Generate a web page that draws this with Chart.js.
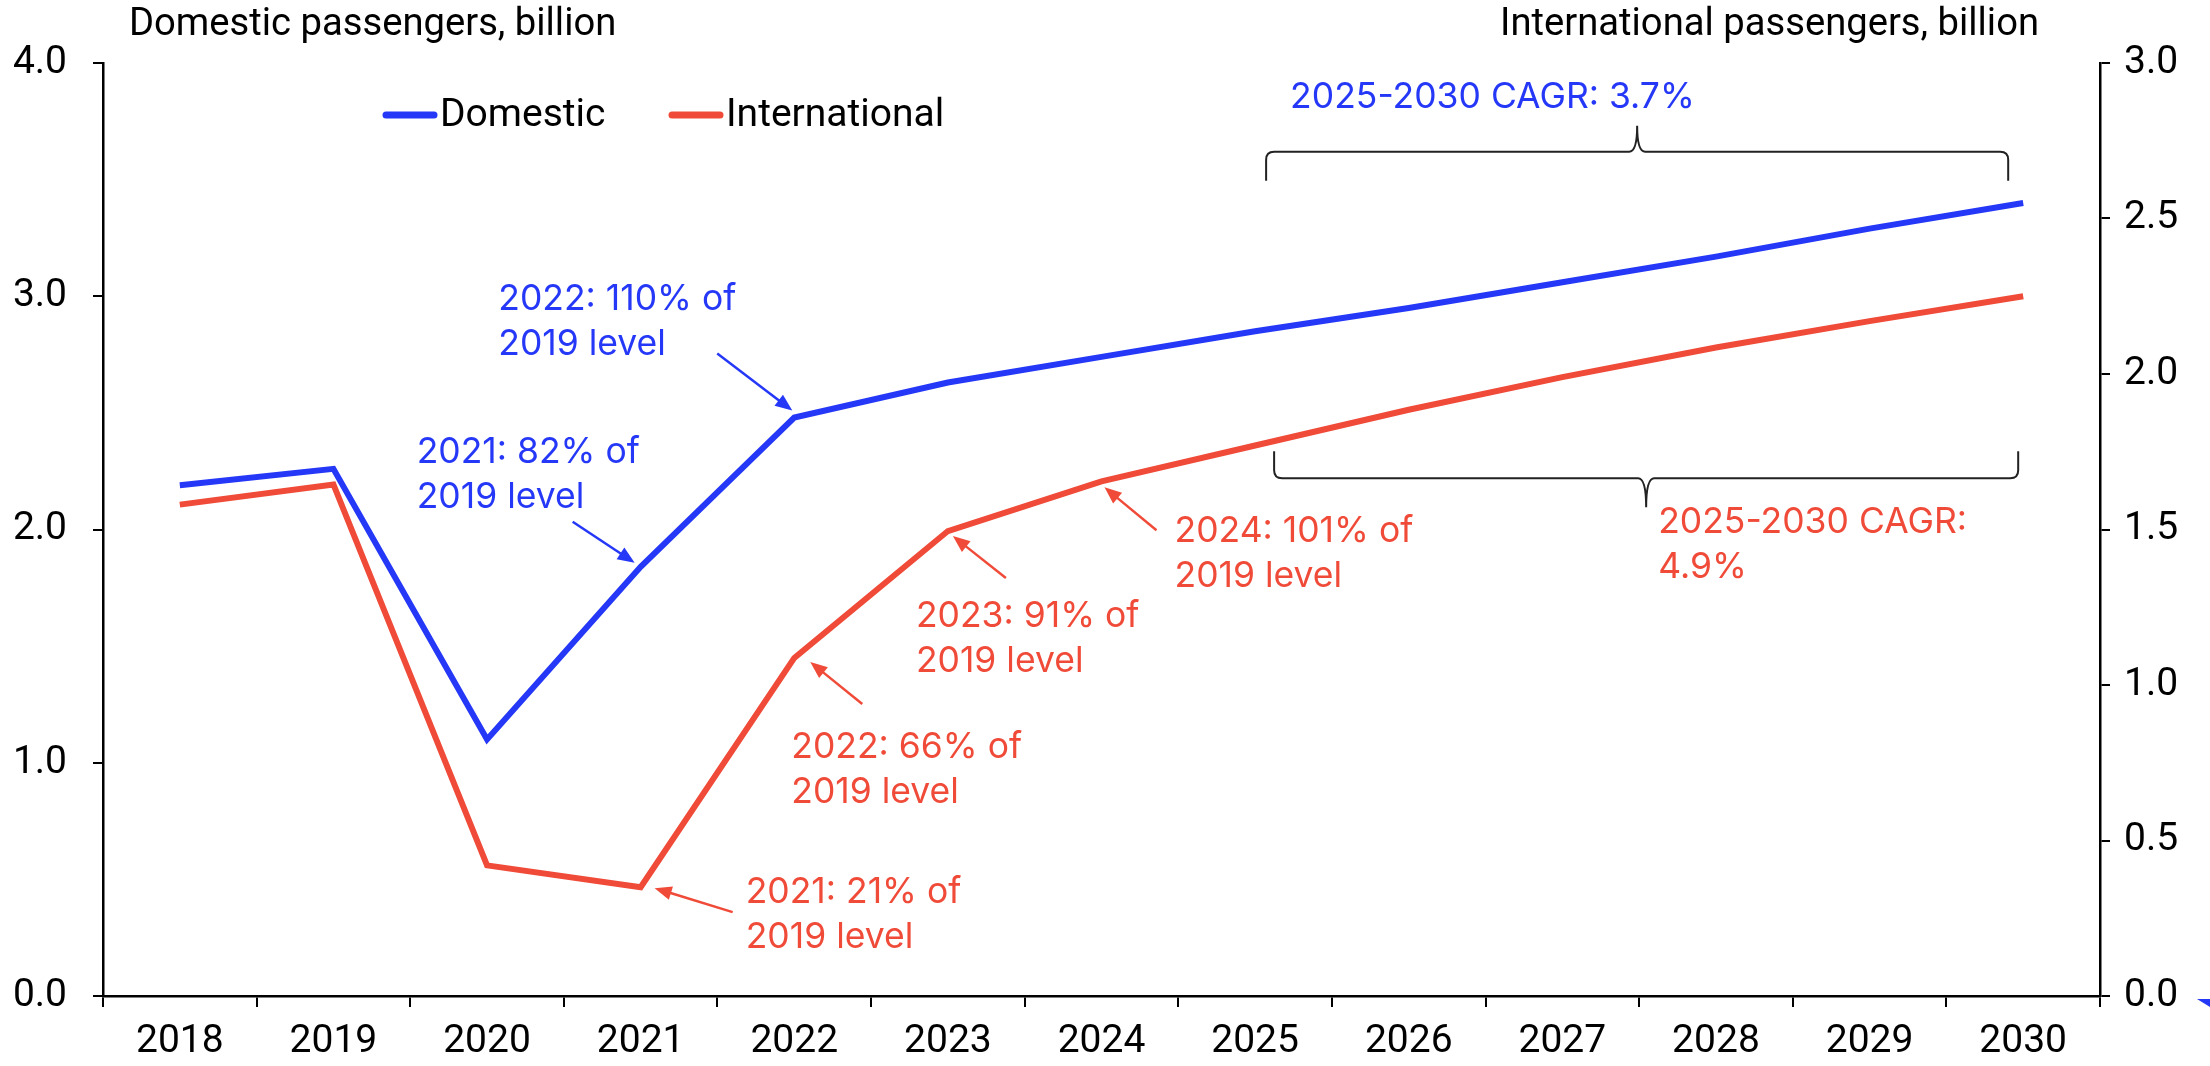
<!DOCTYPE html>
<html><head><meta charset="utf-8">
<script src="https://cdn.jsdelivr.net/npm/chart.js@4.4.1/dist/chart.umd.min.js"></script>
<style>html,body{margin:0;padding:0;background:#fff;}canvas{display:block;}</style>
</head><body>
<canvas id="c" width="2210" height="1066"></canvas>
<script>
// ---- data ----
const years = ['2018','2019','2020','2021','2022','2023','2024','2025','2026','2027','2028','2029','2030'];
const domestic = [2.19, 2.26, 1.10, 1.84, 2.48, 2.63, 2.74, 2.85, 2.95, 3.06, 3.17, 3.29, 3.40];
const international = [1.58, 1.645, 0.42, 0.35, 1.087, 1.495, 1.655, 1.77, 1.885, 1.99, 2.085, 2.17, 2.25];
const leftTicks = [0, 1, 2, 3, 4];
const rightTicks = [0, 0.5, 1, 1.5, 2, 2.5, 3];
const seriesNames = ['Domestic', 'International'];
const leftTitle = 'Domestic passengers, billion';
const rightTitle = 'International passengers, billion';
const domNoteIdx = [4, 3];
const domNoteText = [['2022: 110% of', '2019 level'], ['2021: 82% of', '2019 level']];
const intlNoteIdx = [3, 4, 5, 6];
const intlNoteText = [['2021: 21% of', '2019 level'], ['2022: 66% of', '2019 level'], ['2023: 91% of', '2019 level'], ['2024: 101% of', '2019 level']];
const cagrRange = [7, 12];
const domCagrText = ['2025-2030 CAGR: 3.7%'];
const intlCagrText = ['2025-2030 CAGR:', '4.9%'];

// ---- styles ----
const BLUE = '#2538f7';
const RED = '#f04a38';
const AX_FONT = 'Roboto, "Liberation Sans", sans-serif';
const AX_SIZE = 39;
const TITLE_SIZE = 38.2;
const NOTE_FONT = 'Inter, "Open Sans", sans-serif';
const NOTE_SIZE = 35.5;
const LINE_H = 45;

// annotation layout (pixel offsets from the data point)
const domNoteLayout = [
  {text:[-296,-108], tail:[-77,-64], tip:[-2,-7]},
  {text:[-224,-104], tail:[-68,-45], tip:[-6,-4]}
];
const intlNoteLayout = [
  {text:[105,16], tail:[92,25], tip:[14,1]},
  {text:[-3,100], tail:[68,46], tip:[16,4]},
  {text:[-32,96], tail:[58,47], tip:[5,5]},
  {text:[73,61], tail:[55,49], tip:[3,6]}
];

function drawArrow(ctx, x1, y1, x2, y2, color) {
  const ang = Math.atan2(y2 - y1, x2 - x1);
  const L = 17, W = 7;
  ctx.save();
  ctx.strokeStyle = color; ctx.fillStyle = color; ctx.lineWidth = 2.5;
  ctx.beginPath();
  ctx.moveTo(x1, y1);
  ctx.lineTo(x2 - Math.cos(ang) * (L - 2), y2 - Math.sin(ang) * (L - 2));
  ctx.stroke();
  ctx.beginPath();
  ctx.moveTo(x2, y2);
  ctx.lineTo(x2 - Math.cos(ang) * L - Math.sin(ang) * W, y2 - Math.sin(ang) * L + Math.cos(ang) * W);
  ctx.lineTo(x2 - Math.cos(ang) * L + Math.sin(ang) * W, y2 - Math.sin(ang) * L - Math.cos(ang) * W);
  ctx.closePath();
  ctx.fill();
  ctx.restore();
}

function drawBrace(ctx, x1, x2, yH, yEnd, yTip) {
  const r = 8;
  const s = Math.sign(yEnd - yH);
  const xm = (x1 + x2) / 2;
  ctx.save();
  ctx.strokeStyle = '#222'; ctx.lineWidth = 2;
  ctx.beginPath();
  ctx.moveTo(x1, yEnd);
  ctx.lineTo(x1, yH + s * r);
  ctx.quadraticCurveTo(x1, yH, x1 + r, yH);
  ctx.lineTo(xm - r, yH);
  ctx.quadraticCurveTo(xm, yH, xm, yTip);
  ctx.quadraticCurveTo(xm, yH, xm + r, yH);
  ctx.lineTo(x2 - r, yH);
  ctx.quadraticCurveTo(x2, yH, x2, yH + s * r);
  ctx.lineTo(x2, yEnd);
  ctx.stroke();
  ctx.restore();
}

function drawLines(ctx, lines, x, y, color) {
  ctx.save();
  ctx.fillStyle = color;
  ctx.font = NOTE_SIZE + 'px ' + NOTE_FONT;
  ctx.textAlign = 'left'; ctx.textBaseline = 'alphabetic';
  lines.forEach((t, i) => ctx.fillText(t, x, y + i * LINE_H));
  ctx.restore();
}

const overlay = {
  id: 'overlay',
  afterDraw(chart) {
    const ctx = chart.ctx;
    const xs = chart.scales.x, yl = chart.scales.y, yr = chart.scales.y1;
    // axis titles
    ctx.save();
    ctx.font = TITLE_SIZE + 'px ' + AX_FONT;
    ctx.fillStyle = '#000';
    ctx.textBaseline = 'alphabetic';
    ctx.textAlign = 'left';
    ctx.fillText(leftTitle, 129, 35);
    ctx.textAlign = 'right';
    ctx.fillText(rightTitle, 2039, 35);
    // legend
    ctx.font = AX_SIZE + 'px ' + AX_FONT;
    const legend = [{x: 383, c: BLUE, t: seriesNames[0]}, {x: 669, c: RED, t: seriesNames[1]}];
    legend.forEach(l => {
      ctx.strokeStyle = l.c; ctx.lineWidth = 7; ctx.lineCap = 'round';
      ctx.beginPath(); ctx.moveTo(l.x + 3, 115); ctx.lineTo(l.x + 51, 115); ctx.stroke();
      ctx.textAlign = 'left'; ctx.textBaseline = 'middle'; ctx.fillStyle = '#000';
      ctx.fillText(l.t, l.x + 57, 116);
    });
    ctx.restore();

    // point annotations
    domNoteIdx.forEach((idx, k) => {
      const px = xs.getPixelForValue(idx), py = yl.getPixelForValue(domestic[idx]);
      const L = domNoteLayout[k];
      drawLines(ctx, domNoteText[k], px + L.text[0], py + L.text[1], BLUE);
      drawArrow(ctx, px + L.tail[0], py + L.tail[1], px + L.tip[0], py + L.tip[1], BLUE);
    });
    intlNoteIdx.forEach((idx, k) => {
      const px = xs.getPixelForValue(idx), py = yr.getPixelForValue(international[idx]);
      const L = intlNoteLayout[k];
      drawLines(ctx, intlNoteText[k], px + L.text[0], py + L.text[1], RED);
      drawArrow(ctx, px + L.tail[0], py + L.tail[1], px + L.tip[0], py + L.tip[1], RED);
    });

    // CAGR braces
    const xa = xs.getPixelForValue(cagrRange[0]), xb = xs.getPixelForValue(cagrRange[1]);
    const bY = yl.getPixelForValue(3.62);
    drawBrace(ctx, xa + 11, xb - 15, bY, bY + 29, bY - 26);
    drawLines(ctx, domCagrText, xa + 35, bY - 44, BLUE);
    const rY = yl.getPixelForValue(2.22);
    drawBrace(ctx, xa + 19, xb - 5, rY, rY - 27, rY + 29);
    drawLines(ctx, intlCagrText, (xa + xb) / 2 + 19, rY + 55, RED);

    // small clipped marker at bottom-right edge
    ctx.save();
    ctx.fillStyle = BLUE;
    ctx.beginPath();
    ctx.moveTo(2197, 999); ctx.lineTo(2210, 999); ctx.lineTo(2210, 1007); ctx.closePath();
    ctx.fill();
    ctx.restore();
  }
};

const tickFont = {family: AX_FONT, size: AX_SIZE};
new Chart(document.getElementById('c'), {
  type: 'line',
  data: {
    labels: years,
    datasets: [
      {label: seriesNames[0], data: domestic, yAxisID: 'y', borderColor: BLUE, borderWidth: 6, pointRadius: 0, tension: 0, borderJoinStyle: 'miter', fill: false},
      {label: seriesNames[1], data: international, yAxisID: 'y1', borderColor: RED, borderWidth: 6, pointRadius: 0, tension: 0, borderJoinStyle: 'miter', fill: false}
    ]
  },
  options: {
    responsive: false,
    animation: false,
    events: [],
    layout: {padding: {top: 63, left: 0, right: 0, bottom: 0}},
    plugins: {legend: {display: false}, tooltip: {enabled: false}, title: {display: false}},
    scales: {
      x: {
        type: 'category', offset: true,
        grid: {offset: true, drawOnChartArea: false, drawTicks: true, tickLength: 11, color: '#000', lineWidth: 2},
        border: {display: true, color: '#000', width: 2.5},
        ticks: {font: tickFont, color: '#000', padding: 12, maxRotation: 0, autoSkip: false},
        afterFit: s => { s.height = 70; }
      },
      y: {
        position: 'left', min: 0, max: 4,
        afterBuildTicks: s => { s.ticks = leftTicks.map(v => ({value: v})); },
        grid: {drawOnChartArea: false, drawTicks: true, tickLength: 10, color: '#000', lineWidth: 2},
        border: {display: true, color: '#000', width: 2.5},
        ticks: {font: tickFont, color: '#000', padding: 26, callback: v => Number(v).toFixed(1)},
        afterFit: s => { s.width = 103; }
      },
      y1: {
        position: 'right', min: 0, max: 3,
        afterBuildTicks: s => { s.ticks = rightTicks.map(v => ({value: v})); },
        grid: {drawOnChartArea: false, drawTicks: true, tickLength: 10, color: '#000', lineWidth: 2},
        border: {display: true, color: '#000', width: 2.5},
        ticks: {font: tickFont, color: '#000', padding: 14, callback: v => Number(v).toFixed(1)},
        afterFit: s => { s.width = 110; }
      }
    }
  },
  plugins: [overlay]
});
</script>
</body></html>
